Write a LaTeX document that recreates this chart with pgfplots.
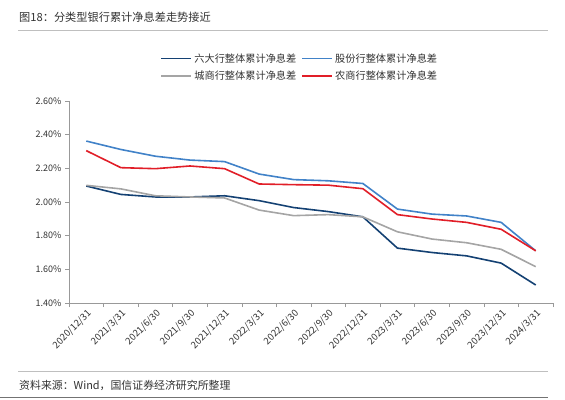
\documentclass[border=0pt]{standalone}
\usepackage{fontspec}
\setmainfont{Noto Sans CJK SC}
\usepackage{pgfplots}
\pgfplotsset{compat=1.18}
\definecolor{cdark}{RGB}{20,65,115}
\definecolor{clight}{RGB}{65,130,200}
\definecolor{cgray}{RGB}{165,165,165}
\definecolor{cred}{RGB}{225,30,40}
\definecolor{txt}{RGB}{50,50,50}
\begin{document}
\begin{tikzpicture}[x=1pt,y=1pt]
\useasboundingbox (0,0) rectangle (565,-399);
\node[anchor=west,inner sep=0pt,font=\fontsize{11.2}{13}\selectfont,text=txt] at (19,-17) {图18：分类型银行累计净息差走势接近};
\draw[gray!50, line width=0.6pt] (18,-30) -- (548,-30);
\begin{axis}[at={(69pt,-303pt)}, anchor=south west, scale only axis,
 width=484pt, height=202pt,
 xmin=-0.5, xmax=13.5, ymin=1.4, ymax=2.6,
 axis x line=bottom, axis y line=left,
 axis line style={-, gray!80, line width=0.7pt},
 tick align=outside, major tick length=4pt, minor tick length=4pt,
 tick style={gray!80, line width=0.6pt},
 xtick={0,...,13},
 xticklabels={2020/12/31,2021/3/31,2021/6/30,2021/9/30,2021/12/31,2022/3/31,2022/6/30,2022/9/30,2022/12/31,2023/3/31,2023/6/30,2023/9/30,2023/12/31,2024/3/31},
 major x tick style={draw=none},
 minor xtick={-0.5,0.5,1.5,2.5,3.5,4.5,5.5,6.5,7.5,8.5,9.5,10.5,11.5,12.5,13.5},
 x tick label style={rotate=45, anchor=north east, inner sep=1pt, font=\fontsize{9.5}{10}\selectfont, text=txt},
 ytick={1.4,1.6,1.8,2.0,2.2,2.4,2.6},
 yticklabels={1.40\%,1.60\%,1.80\%,2.00\%,2.20\%,2.40\%,2.60\%},
 y tick label style={font=\fontsize{9}{10}\selectfont, text=txt},
 legend columns=2,
 legend cell align=left,
 legend style={at={(0.477,1.168)}, anchor=center, draw=none, fill=none,
   font=\fontsize{10.2}{12}\selectfont, text=txt,
   /tikz/every even column/.append style={column sep=3pt}, row sep=3pt},
 legend image code/.code={\draw[#1, line width=1.8pt] (0pt,0pt) -- (30pt,0pt);},
 every axis plot/.append style={line width=1.6pt, line join=round},
 clip=false,
]
\addplot[cdark] coordinates {(0,2.095)(1,2.045)(2,2.030)(3,2.030)(4,2.037)(5,2.008)(6,1.967)(7,1.943)(8,1.912)(9,1.726)(10,1.700)(11,1.680)(12,1.637)(13,1.507)};
\addlegendentry{六大行整体累计净息差}
\addplot[clight] coordinates {(0,2.362)(1,2.312)(2,2.272)(3,2.249)(4,2.240)(5,2.166)(6,2.133)(7,2.126)(8,2.110)(9,1.958)(10,1.928)(11,1.917)(12,1.879)(13,1.710)};
\addlegendentry{股份行整体累计净息差}
\addplot[cgray] coordinates {(0,2.099)(1,2.078)(2,2.037)(3,2.030)(4,2.024)(5,1.952)(6,1.919)(7,1.925)(8,1.912)(9,1.823)(10,1.780)(11,1.758)(12,1.719)(13,1.616)};
\addlegendentry{城商行整体累计净息差}
\addplot[cred] coordinates {(0,2.305)(1,2.204)(2,2.198)(3,2.214)(4,2.198)(5,2.107)(6,2.103)(7,2.100)(8,2.079)(9,1.925)(10,1.899)(11,1.879)(12,1.838)(13,1.710)};
\addlegendentry{农商行整体累计净息差}
\end{axis}
\draw[gray!50, line width=0.6pt] (18,-371) -- (548,-371);
\node[anchor=west,inner sep=0pt,font=\fontsize{10.9}{12}\selectfont,text=txt] at (19,-385) {资料来源：Wind，国信证券经济研究所整理};
\draw[gray!90!black, line width=0.8pt] (0,-397) -- (548,-397);
\end{tikzpicture}
\end{document}
